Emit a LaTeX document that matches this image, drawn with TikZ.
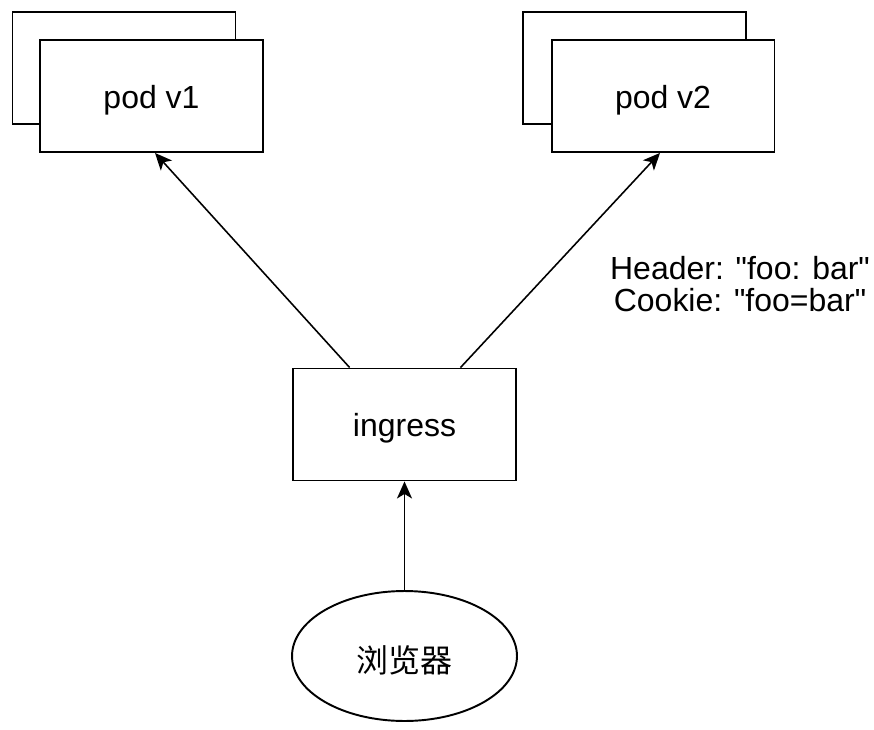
\documentclass[tikz,border=0pt]{standalone}
\usepackage{fontspec}
\setmainfont{Liberation Sans}[Ligatures=TeXOff]
\newfontfamily\cjk{Noto Sans CJK SC}
\usetikzlibrary{arrows.meta,shapes.geometric,calc}
\begin{document}
\begin{tikzpicture}[x=0.02cm,y=-0.02cm,
  box/.style={draw=black,fill=white,line width=1.1pt,rectangle,minimum width=4.46cm,minimum height=2.24cm,inner sep=0pt},
  lbl/.style={font=\fontsize{18.2pt}{18.5pt}\selectfont},
  conn/.style={line width=0.9pt,-{Stealth[length=0.34cm,width=0.3cm,inset=0.09cm]}}]
\useasboundingbox (0,0) rectangle (874,729);
\fill[white] (0,0) rectangle (874,729);
% pod v1
\node[box] (p1b) at (124,68) {};
\node[box] (p1) at (151.5,96) {};
\node[lbl] (p1t) at ($(p1.center)+(0,4)$) {pod v1};
% pod v2
\node[box] (p2b) at (634.5,68) {};
\node[box] (p2) at (663,96) {};
\node[lbl] (p2t) at ($(p2.center)+(0,4)$) {pod v2};
% ingress
\node[box] (ing) at (404.5,424.5) {};
\node[lbl] (ingt) at ($(ing.center)+(0,4)$) {ingress};
% browser
\node[draw=black,fill=white,line width=1.1pt,ellipse,minimum width=4.5cm,minimum height=2.6cm,inner sep=0pt] (br) at (404.5,656) {};
\node[font=\cjk\fontsize{18.2pt}{18.5pt}\selectfont] (brt) at ($(br.center)+(0,4)$) {浏览器};
% label
\node[lbl,align=center] (hdr) at (740,284) {Header: "foo: bar"\\Cookie: "foo=bar"};
% connectors
\draw[conn] ($(ing.north west)!0.256!(ing.north east)$) -- ($(p1.south)+(3.5,0)$);
\draw[conn] ($(ing.north west)!0.749!(ing.north east)$) -- ($(p2.south)+(-3,0)$);
\draw[conn] (br.north) -- (ing.south);
\end{tikzpicture}
\end{document}
